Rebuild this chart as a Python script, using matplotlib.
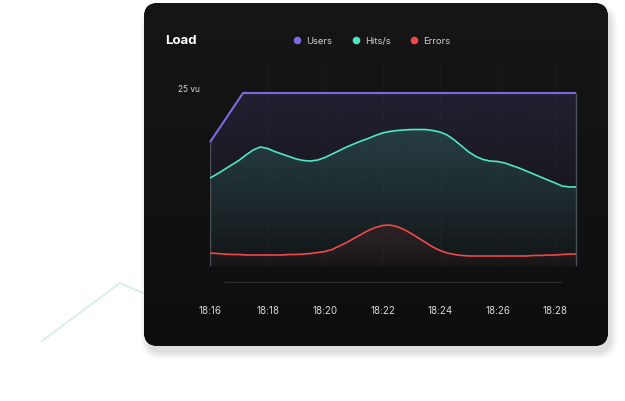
import numpy as np
import matplotlib
matplotlib.use("Agg")
import matplotlib.pyplot as plt
from matplotlib.patches import FancyBboxPatch, PathPatch
from matplotlib.colors import to_rgb

plt.rcParams["font.family"] = ["Inter", "DejaVu Sans"]

# data (minutes after 18:16, sampled every 15 s)
minutes = np.arange(52) * 0.25
hits = [13.76, 14.29, 14.88, 15.48, 16.07, 16.80, 17.46, 17.86, 17.66, 17.26,
        16.93, 16.60, 16.27, 16.07, 16.00, 16.14, 16.47, 16.93, 17.39, 17.86,
        18.25, 18.65, 18.98, 19.38, 19.71, 19.91, 20.04, 20.11, 20.17, 20.17,
        20.17, 20.04, 19.84, 19.44, 18.78, 17.99, 17.20, 16.60, 16.20, 16.00,
        15.94, 15.74, 15.41, 15.08, 14.68, 14.29, 13.89, 13.49, 13.10, 12.70,
        12.57, 12.57]
errors = [3.84, 3.77, 3.70, 3.64, 3.64, 3.57, 3.57, 3.57, 3.57, 3.57,
          3.57, 3.64, 3.64, 3.70, 3.77, 3.90, 4.03, 4.30, 4.76, 5.22,
          5.75, 6.28, 6.81, 7.21, 7.47, 7.54, 7.34, 6.94, 6.42, 5.82,
          5.22, 4.63, 4.17, 3.84, 3.64, 3.51, 3.44, 3.44, 3.44, 3.44,
          3.44, 3.44, 3.44, 3.44, 3.44, 3.51, 3.51, 3.57, 3.57, 3.64,
          3.70, 3.70]
users_t = [0, 1.15, 12.73]
users = [18.5, 25, 25]
tick_min = [0, 2, 4, 6, 8, 10, 12]
tick_labels = ["18:16", "18:18", "18:20", "18:22", "18:24", "18:26", "18:28"]
legend_names = ["Users", "Hits/s", "Errors"]
colors = ["#7b6be0", "#4fe6c3", "#f0484a"]
deco_x = [42, 120, 150]
deco_y = [342, 284, 297]

W, H = 625, 402
fig = plt.figure(figsize=(W / 100, H / 100), dpi=100)
fig.patch.set_facecolor("white")

# background / card layer in pixel coords
bg = fig.add_axes([0, 0, 1, 1])
bg.set_xlim(0, W)
bg.set_ylim(H, 0)
bg.axis("off")

bg.plot(deco_x, deco_y, color="#d3f1e5", lw=1.3, zorder=0)

for i, a in enumerate([0.025, 0.03, 0.035, 0.04]):
    grow = 6 - i * 2
    sh = FancyBboxPatch((144 - grow + 3, 4 - grow + 7), 464 + 2 * grow, 343 + 2 * grow,
                        boxstyle="round,pad=0,rounding_size=%d" % (14 + grow),
                        fc="black", ec="none", alpha=a, zorder=1)
    bg.add_patch(sh)

card = FancyBboxPatch((144, 4), 464, 343, boxstyle="round,pad=0,rounding_size=14",
                      fc="#121212", ec="none", zorder=2)
bg.add_patch(card)
grad = np.linspace(0, 1, 256)[:, None]
cmap = matplotlib.colors.LinearSegmentedColormap.from_list("c", ["#161616", "#0e0e0e"])
im = bg.imshow(grad, cmap=cmap, aspect="auto", extent=[144, 608, 347, 4], zorder=3)
im.set_clip_path(card)
bg.set_xlim(0, W)
bg.set_ylim(H, 0)

bg.text(165, 41, "Load", color="white", fontsize=9.5, fontweight="bold",
        va="center", ha="left", zorder=5)
for cx, name, c in zip([297, 356, 414], legend_names, colors):
    bg.scatter([cx], [41], s=30, color=c, zorder=5, lw=0)
    bg.text(cx + 9, 41.5, name, color="#cfcfcf", fontsize=6.8, va="center",
            ha="left", zorder=5)
bg.text(189, 89, "25 vu", color="#d6d6d6", fontsize=6, va="center", ha="center", zorder=5)

# chart
ax = fig.add_axes([210 / W, (H - 283) / H, 366 / W, 189 / H])
ax.set_facecolor("none")
base = 2.0


def grad_fill(x, y, color, a_top, a_bot, z):
    poly = ax.fill_between(x, base, y, color="none", lw=0)
    patch = PathPatch(poly.get_paths()[0], transform=ax.transData, fc="none", ec="none")
    ax.add_patch(patch)
    poly.remove()
    arr = np.zeros((256, 1, 4))
    arr[:, 0, :3] = to_rgb(color)
    arr[:, 0, 3] = np.linspace(a_bot, a_top, 256)
    g = ax.imshow(arr, aspect="auto", origin="lower",
                  extent=[min(x), max(x), base, max(y)], zorder=z, interpolation="bilinear")
    g.set_clip_path(patch)


grad_fill(users_t, users, colors[0], 0.14, 0.02, 1)
grad_fill(minutes, hits, colors[1], 0.17, 0.02, 2)
grad_fill(minutes, errors, colors[2], 0.10, 0.03, 3)

for m in tick_min[1:]:
    ax.plot([m, m], [base, 29.5], color="#ffffff", alpha=0.025, lw=1, clip_on=False, zorder=0)

ax.plot(users_t, users, color=colors[0], lw=1.5, zorder=6, clip_on=False,
        solid_capstyle="butt")
ax.plot(minutes, hits, color=colors[1], lw=1.2, zorder=6)
ax.plot(minutes, errors, color=colors[2], lw=1.2, zorder=6)

xmax = 12.73
ax.plot([0, 0], [base + 0.3, users[0]], color="#4a5058", lw=1, zorder=5)
ax.plot([xmax, xmax], [base + 0.3, 25], color="#4a5058", lw=1, zorder=5, clip_on=False)
ax.axhline(0, xmin=0.04, xmax=0.96, color="#2a2c31", lw=1, zorder=5, clip_on=False)

ax.set_xlim(0, xmax)
ax.set_ylim(0, 25)
ax.set_xticks(tick_min)
ax.set_xticklabels(tick_labels, color="#d8d8d8", fontsize=7)
ax.tick_params(axis="x", length=0, pad=16.5)
ax.set_yticks([])
for s in ax.spines.values():
    s.set_visible(False)

fig.savefig("out.png", dpi=100, facecolor="white")
